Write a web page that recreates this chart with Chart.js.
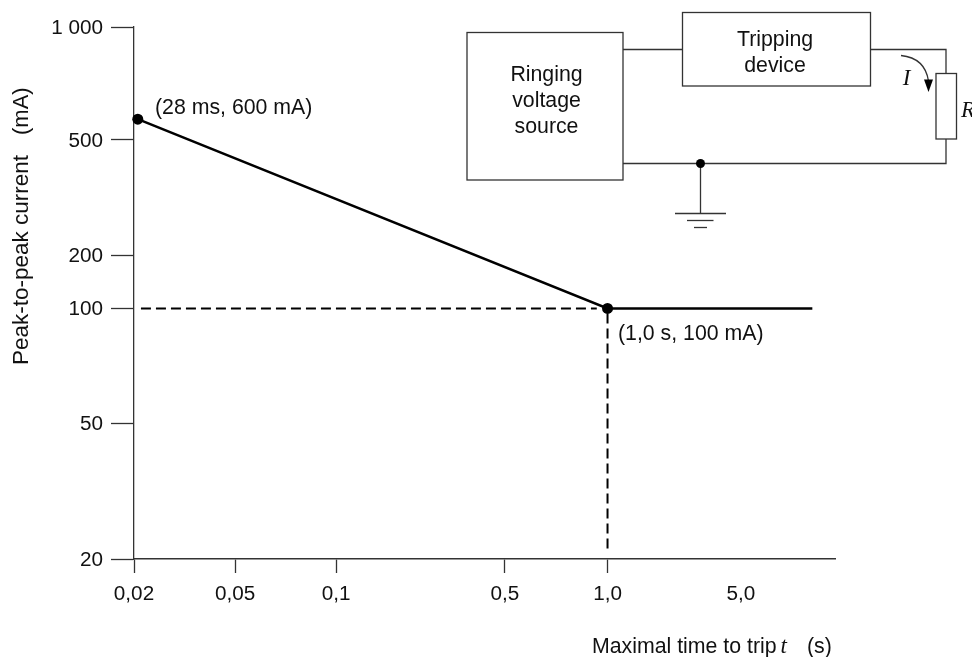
<!DOCTYPE html>
<html>
<head>
<meta charset="utf-8">
<script src="https://cdn.jsdelivr.net/npm/chart.js@4/dist/chart.umd.min.js"></script>
<style>
  html, body { margin: 0; padding: 0; background: #fff; overflow: hidden; }
  canvas { display: block; }
</style>
</head>
<body>
<canvas id="chart" width="972" height="657"></canvas>
<script>
// Values
const curveTimes = [0.0207, 1.0, 11.8];
const curveCurrents = [568, 100, 100];
const dashH_times = [0.0213, 0.93];
const dashH_currents = [100, 100];
const dashV_times = [1.0, 1.0];
const dashV_currents = [97, 21];

const xTickValues = [0.02, 0.05, 0.1, 0.5, 1, 5];
const xTickLabels = ['0,02', '0,05', '0,1', '0,5', '1,0', '5,0'];
const yTickValues = [20, 50, 100, 200, 500, 1000];
const yTickLabels = ['20', '50', '100', '200', '500', '1 000'];

// The printed axes are not a true log scale, each tick sits where the figure put it
const xStopValues = [0.02, 0.05, 0.1, 0.5, 1, 5, 15.5];
const xStopFractions = [0, 0.1441, 0.2882, 0.5292, 0.6755, 0.8659, 1];
const yStopValues = [20, 50, 100, 200, 500, 1000];
const yStopFractions = [0, 0.2556, 0.4709, 0.5701, 0.7876, 1];

const FONT = '"Liberation Sans", Arial, sans-serif';
const SERIF = '"Liberation Serif", "Times New Roman", serif';
const INK = '#111';

class StopLogScale extends Chart.LogarithmicScale {
    static id = 'stoplog';
    buildTicks() {
        return this.options.stopTicks.map(value => ({ value }));
    }
    getPixelForValue(value) {
        const vals = this.options.stopValues;
        const fracs = this.options.stopFractions;
        let i = 0;
        while (i < vals.length - 2 && value > vals[i + 1]) i++;
        const t = Math.log(value / vals[i]) / Math.log(vals[i + 1] / vals[i]);
        return this.getPixelForDecimal(fracs[i] + t * (fracs[i + 1] - fracs[i]));
    }
}
Chart.register(StopLogScale);

function toPoints(xs, ys) {
    return xs.map((x, i) => ({ x, y: ys[i] }));
}

function drawText(ctx, text, x, y, font, align) {
    ctx.font = font;
    ctx.textAlign = align || 'left';
    ctx.textBaseline = 'alphabetic';
    ctx.fillText(text, x, y);
}

function line(ctx, x1, y1, x2, y2) {
    ctx.beginPath();
    ctx.moveTo(x1, y1);
    ctx.lineTo(x2, y2);
    ctx.stroke();
}

// circuit sketch, axis titles and the two point notes
const figurePlugin = {
    id: 'figure',
    afterDatasetsDraw(chart) {
        const ctx = chart.ctx;
        ctx.save();
        ctx.fillStyle = INK;
        ctx.strokeStyle = '#333';
        ctx.lineWidth = 1.3;

        const main = '21.3px ' + FONT;
        drawText(ctx, '(28 ms, 600 mA)', 155, 114, main);
        drawText(ctx, '(1,0 s, 100 mA)', 618, 340, main);
        drawText(ctx, 'Maximal time to trip', 592, 653, main);
        drawText(ctx, 't', 780.5, 653, 'italic 23px ' + SERIF);
        drawText(ctx, '(s)', 807, 653, main);

        ctx.save();
        ctx.translate(28, 365);
        ctx.rotate(-Math.PI / 2);
        drawText(ctx, 'Peak-to-peak current', 0, 0, '22.5px ' + FONT);
        drawText(ctx, '(mA)', 230, 0, '22px ' + FONT);
        ctx.restore();

        // boxes
        ctx.strokeRect(467, 32.5, 156, 147.5);
        ctx.strokeRect(682.5, 12.5, 188, 73.5);
        ctx.strokeRect(936, 73.5, 20.5, 65.5);

        // wires
        line(ctx, 623, 49.5, 682.5, 49.5);
        ctx.beginPath();
        ctx.moveTo(870.5, 49.5);
        ctx.lineTo(946, 49.5);
        ctx.lineTo(946, 73.5);
        ctx.stroke();
        ctx.beginPath();
        ctx.moveTo(946, 139);
        ctx.lineTo(946, 163.5);
        ctx.lineTo(623, 163.5);
        ctx.stroke();

        // ground
        line(ctx, 700.5, 163.5, 700.5, 213.5);
        line(ctx, 675, 213.5, 726, 213.5);
        line(ctx, 687, 220.5, 713.5, 220.5);
        line(ctx, 694, 227.5, 707, 227.5);
        ctx.beginPath();
        ctx.arc(700.5, 163.5, 4.5, 0, Math.PI * 2);
        ctx.fillStyle = '#000';
        ctx.fill();

        // current arrow
        ctx.beginPath();
        ctx.moveTo(901, 55.5);
        ctx.quadraticCurveTo(925, 58, 928.5, 81);
        ctx.stroke();
        ctx.beginPath();
        ctx.moveTo(924, 79.5);
        ctx.lineTo(933, 79.5);
        ctx.lineTo(928.5, 92);
        ctx.closePath();
        ctx.fill();

        ctx.fillStyle = INK;
        drawText(ctx, 'Ringing', 546.5, 81, main, 'center');
        drawText(ctx, 'voltage', 546.5, 107, main, 'center');
        drawText(ctx, 'source', 546.5, 133, main, 'center');
        drawText(ctx, 'Tripping', 775, 46, main, 'center');
        drawText(ctx, 'device', 775, 72, main, 'center');
        drawText(ctx, 'I', 906.5, 85, 'italic 23px ' + SERIF, 'center');
        drawText(ctx, 'R', 961, 117, 'italic 23px ' + SERIF);
        ctx.restore();
    }
};

new Chart(document.getElementById('chart'), {
    type: 'line',
    data: {
        datasets: [
            {
                data: toPoints(curveTimes, curveCurrents),
                borderColor: '#000',
                backgroundColor: '#000',
                borderWidth: 2.5,
                pointRadius: [5.5, 5.5, 0],
                pointBackgroundColor: '#000',
                pointBorderWidth: 0,
                tension: 0,
                clip: false
            },
            {
                data: toPoints(dashH_times, dashH_currents),
                borderColor: '#000',
                borderWidth: 2,
                borderDash: [10, 5],
                pointRadius: 0,
                clip: false
            },
            {
                data: toPoints(dashV_times, dashV_currents),
                borderColor: '#000',
                borderWidth: 2,
                borderDash: [10, 5],
                pointRadius: 0,
                clip: false
            }
        ]
    },
    options: {
        responsive: false,
        animation: false,
        layout: { padding: { top: 27, right: 137, left: 0, bottom: 0 } },
        plugins: { legend: { display: false }, tooltip: { enabled: false } },
        scales: {
            x: {
                type: 'stoplog',
                min: 0.02,
                max: 15.5,
                stopTicks: xTickValues,
                stopValues: xStopValues,
                stopFractions: xStopFractions,
                afterFit: scale => { scale.height = 98; },
                border: { color: '#333', width: 1.6 },
                grid: {
                    drawOnChartArea: false,
                    tickLength: 14,
                    tickWidth: 1.3,
                    tickColor: c => (c.tick && c.tick.value === 5 ? 'rgba(0,0,0,0)' : '#333')
                },
                ticks: {
                    autoSkip: false,
                    maxRotation: 0,
                    padding: 9,
                    color: INK,
                    font: { family: FONT, size: 20.7 },
                    callback: (value, i) => xTickLabels[i]
                }
            },
            y: {
                type: 'stoplog',
                min: 20,
                max: 1000,
                stopTicks: yTickValues,
                stopValues: yStopValues,
                stopFractions: yStopFractions,
                afterFit: scale => { scale.width = 134; },
                border: { color: '#333', width: 1.3 },
                grid: {
                    drawOnChartArea: false,
                    tickLength: 23,
                    tickWidth: 1.3,
                    tickColor: '#333'
                },
                ticks: {
                    autoSkip: false,
                    padding: 8,
                    labelOffset: 1,
                    color: INK,
                    font: { family: FONT, size: 20.7 },
                    callback: (value, i) => yTickLabels[i]
                }
            }
        }
    },
    plugins: [figurePlugin]
});
</script>
</body>
</html>
